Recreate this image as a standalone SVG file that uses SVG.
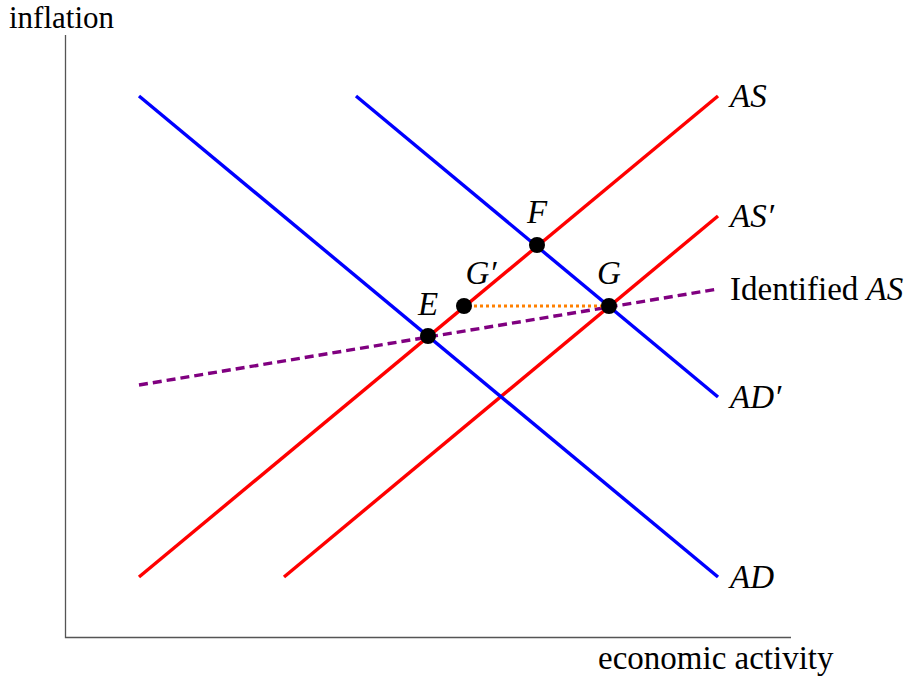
<svg xmlns="http://www.w3.org/2000/svg" width="915" height="678" viewBox="0 0 915 678">
<style>
.ax{stroke:#555;stroke-width:1.3;fill:none}
.as{stroke:#ff0000;stroke-width:3.4;fill:none}
.ad{stroke:#0000ff;stroke-width:3.4;fill:none}
.id{stroke:#800080;stroke-width:3.4;fill:none;stroke-dasharray:9 5}
.or{stroke:#ff8000;stroke-width:3;fill:none;stroke-dasharray:3 3}
.pt{fill:#000}
text{font-family:"Liberation Serif",serif;font-size:33px;fill:#000}
.it{font-style:italic}
</style>
<rect width="915" height="678" fill="#fff"/>
<g id="axes">
<path class="ax" d="M65.5 35V637.5H791"/>
<text x="9" y="28" style="font-size:31px">inflation</text>
<text x="598" y="669">economic activity</text>
</g>
<g id="connectors">
<line id="AS" class="as" x1="139" y1="577" x2="718" y2="96"/>
<line id="ASp" class="as" x1="284" y1="577" x2="718" y2="216"/>
<line id="AD" class="ad" x1="139" y1="96" x2="718" y2="577"/>
<line id="ADp" class="ad" x1="356" y1="96" x2="718" y2="397"/>
<line id="IdAS" class="id" x1="139" y1="385" x2="718" y2="289"/>
<line id="GG" class="or" x1="468" y1="306" x2="605" y2="306"/>
</g>
<g id="label-AS"><text class="it" x="730" y="107">AS</text></g>
<g id="label-ASp"><text class="it" x="730" y="227">AS′</text></g>
<g id="label-IdAS"><text x="730" y="300">Identified <tspan class="it">AS</tspan></text></g>
<g id="label-ADp"><text class="it" x="730" y="408">AD′</text></g>
<g id="label-AD"><text class="it" x="730" y="588">AD</text></g>
<g id="E"><circle class="pt" cx="428" cy="336" r="8"/><text class="it" x="428" y="315" text-anchor="middle">E</text></g>
<g id="Gp"><circle class="pt" cx="464" cy="306" r="8"/><text class="it" x="481" y="284" text-anchor="middle">G′</text></g>
<g id="F"><circle class="pt" cx="537" cy="245" r="8"/><text class="it" x="537" y="223" text-anchor="middle">F</text></g>
<g id="G"><circle class="pt" cx="609" cy="306" r="8"/><text class="it" x="609" y="284" text-anchor="middle">G</text></g>
</svg>
